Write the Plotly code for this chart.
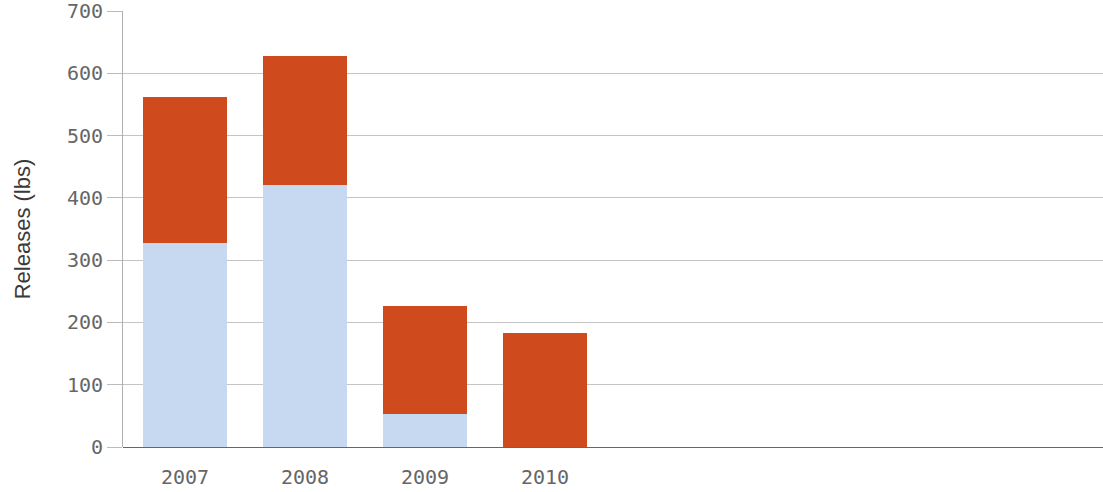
import plotly.graph_objects as go

# Release data (lbs)
years = ["2007", "2008", "2009", "2010"]
lower = [328, 420, 53, 0]      # light blue part
upper = [234, 208, 173, 183]   # red part stacked on top

blue = "#C6D9F1"
red = "#CF4A1C"

fig = go.Figure()
fig.add_trace(go.Bar(x=years, y=lower, marker=dict(color=blue, line=dict(width=0)), name="A"))
fig.add_trace(go.Bar(x=years, y=upper, marker=dict(color=red, line=dict(width=0)), name="B"))

tick_font = dict(family="DejaVu Sans Mono, Liberation Mono, monospace", size=20, color="#666666")

fig.update_layout(
    barmode="stack",
    bargap=0.3,
    width=1103,
    height=492,
    margin=dict(l=123, r=0, t=11, b=45, autoexpand=False),
    paper_bgcolor="white",
    plot_bgcolor="white",
    showlegend=False,
    xaxis=dict(
        type="category",
        range=[-0.517, 7.65],
        automargin=False,
        tickfont=tick_font,
        showgrid=False,
        ticks="outside",
        ticklen=12,
        tickcolor="rgba(0,0,0,0)",
        showline=False,
        zeroline=False,
    ),
    yaxis=dict(
        range=[0, 700],
        automargin=False,
        tickvals=[0, 100, 200, 300, 400, 500, 600, 700],
        tickfont=tick_font,
        ticklabeloverflow="allow",
        ticks="outside",
        ticklen=15,
        tickcolor="#bbbbbb",
        showgrid=True,
        gridcolor="#c4c4c4",
        gridwidth=1,
        showline=True,
        linecolor="#b0b0b0",
        linewidth=1,
        zeroline=True,
        zerolinecolor="#666666",
        zerolinewidth=1,
        title=dict(text="Releases (lbs)", font=dict(family="Liberation Sans, Arial, sans-serif", size=22, color="#3a3a3a"), standoff=30),
    ),
)

# drop the page's default body margin so the figure sits at the window corner
fig.write_html("out.html", config={"displayModeBar": False},
               post_script="document.body.style.margin='0';")
